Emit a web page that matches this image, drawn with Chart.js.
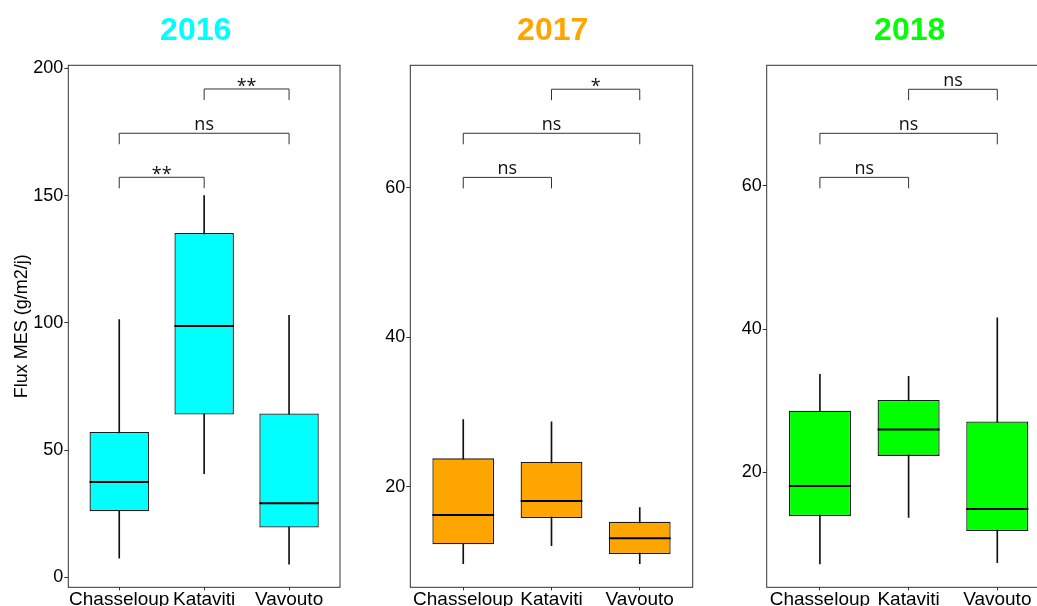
<!DOCTYPE html>
<html>
<head>
<meta charset="utf-8">
<script src="https://cdn.jsdelivr.net/npm/chart.js@4.4.1/dist/chart.umd.min.js"></script>
<style>
  html, body { margin: 0; padding: 0; background: #fff; overflow: hidden; }
  #wrap { position: relative; width: 1037px; height: 606px; overflow: hidden; background: #fff; }
  canvas { position: absolute; top: 0; }
</style>
</head>
<body>
<div id="wrap">
  <canvas id="c2016" width="346" height="640" style="left:0px"></canvas>
  <canvas id="c2017" width="346" height="640" style="left:350px"></canvas>
  <canvas id="c2018" width="360" height="640" style="left:700px"></canvas>
</div>
<script>
// ---------- data ----------
const groups = ["Chasseloup", "Kataviti", "Vavouto"];
const years = ["2016", "2017", "2018"];

const low2016    = [7.5, 40.7, 5.2];
const q1_2016    = [26.0, 64.0, 19.6];
const median2016 = [37.5, 98.8, 29.1];
const q3_2016    = [57.1, 135.3, 64.4];
const high2016   = [101.3, 150.0, 103.0];

const low2017    = [9.7, 12.1, 9.7];
const q1_2017    = [12.3, 15.8, 11.0];
const median2017 = [16.2, 18.1, 13.1];
const q3_2017    = [23.8, 23.3, 15.3];
const high2017   = [29.0, 28.7, 17.2];

const low2018    = [7.2, 13.7, 7.4];
const q1_2018    = [13.9, 22.3, 11.8];
const median2018 = [18.1, 26.0, 14.9];
const q3_2018    = [28.6, 30.1, 27.1];
const high2018   = [33.7, 33.4, 41.6];

const comparisons = [[0, 1], [0, 2], [1, 2]];
const signif2016 = ["**", "ns", "**"];
const signif2017 = ["ns", "ns", "*"];
const signif2018 = ["ns", "ns", "ns"];
const bracketY2016 = [157.2, 174.5, 191.9];
const bracketY2017 = [61.4, 67.3, 73.2];
const bracketY2018 = [61.2, 67.35, 73.5];

const yTicks2016 = [0, 50, 100, 150, 200];
const yTicks2017 = [20, 40, 60];
const yTicks2018 = [20, 40, 60];
const yRange2016 = [-3.9, 201.2];
const yRange2017 = [6.54, 76.4];
const yRange2018 = [3.95, 76.85];

const yTitle = "Flux MES (g/m2/j)";

// ---------- styling ----------
Chart.defaults.font.family = "'Liberation Sans', Arial, Helvetica, sans-serif";
Chart.defaults.color = "#000";
const BOX_WIDTH = 0.7;

const panelPlugin = {
  id: 'panelDeco',
  afterDraw(chart, args, opts) {
    const ctx = chart.ctx;
    const a = chart.chartArea;
    const x = chart.scales.x, y = chart.scales.y;
    ctx.save();
    // panel border
    ctx.strokeStyle = '#333';
    ctx.lineWidth = 1;
    ctx.strokeRect(a.left, a.top, a.right - a.left, a.bottom - a.top);
    // significance brackets
    ctx.strokeStyle = '#333';
    ctx.lineWidth = 1;
    ctx.fillStyle = '#111';
    opts.pairs.forEach((p, i) => {
      const x1 = x.getPixelForValue(p[0] + 1);
      const x2 = x.getPixelForValue(p[1] + 1);
      const yy = y.getPixelForValue(opts.levels[i]);
      ctx.beginPath();
      ctx.moveTo(x1, yy + 11);
      ctx.lineTo(x1, yy);
      ctx.lineTo(x2, yy);
      ctx.lineTo(x2, yy + 11);
      ctx.stroke();
      const lab = opts.labels[i];
      ctx.font = "18px 'Open Sans', 'DejaVu Sans', sans-serif";
      ctx.textAlign = 'center';
      ctx.textBaseline = 'alphabetic';
      const m = ctx.measureText(lab);
      const gap = lab === 'ns' ? 3.7 : 2;
      ctx.fillText(lab, (x1 + x2) / 2, yy - gap - m.actualBoundingBoxDescent);
    });
    // title
    ctx.font = "bold 32px 'Liberation Sans', Arial, sans-serif";
    ctx.fillStyle = opts.titleColor;
    ctx.textAlign = 'center';
    ctx.textBaseline = 'alphabetic';
    ctx.fillText(opts.title, opts.titleX, 40);
    ctx.restore();
  }
};

function makePanel(id, cfg) {
  const toPts = (arrA, arrB) => groups.map((g, i) => ({ x: i + 1, y: [arrA[i], arrB[i]] }));
  return new Chart(document.getElementById(id), {
    type: 'bar',
    data: {
      datasets: [
        {
          type: 'line',
          showLine: false,
          data: groups.map((g, i) => ({ x: i + 1, y: cfg.med[i] })),
          pointStyle: 'line',
          pointRadius: (c) => {
            const s = c.chart.scales.x;
            return Math.abs(s.getPixelForValue(1 + BOX_WIDTH / 2) - s.getPixelForValue(1));
          },
          pointBorderWidth: 2,
          pointBorderColor: '#000',
          pointBackgroundColor: '#000'
        },
        {
          data: toPts(cfg.q1, cfg.q3),
          backgroundColor: cfg.color,
          borderColor: '#1a1a1a',
          borderWidth: 1.3,
          borderSkipped: false,
          grouped: false,
          barPercentage: BOX_WIDTH,
          categoryPercentage: 1
        },
        {
          data: toPts(cfg.low, cfg.high),
          backgroundColor: '#111',
          borderWidth: 0,
          barThickness: 1,
          grouped: false
        }
      ]
    },
    options: {
      responsive: false,
      devicePixelRatio: 1,
      animation: false,
      events: [],
      layout: { padding: { left: 0, top: 65.3, right: cfg.rightPad, bottom: 0 } },
      plugins: {
        legend: { display: false },
        tooltip: { enabled: false },
        title: { display: false },
        panelDeco: {
          pairs: comparisons, levels: cfg.levels, labels: cfg.labels,
          title: cfg.title, titleX: cfg.titleX, titleColor: cfg.color
        }
      },
      scales: {
        x: {
          type: 'linear',
          offset: false,
          min: 0.4, max: 3.6,
          afterBuildTicks: (s) => { s.ticks = groups.map((g, i) => ({ value: i + 1 })); },
          afterFit: (s) => { s.height = 640 - 587.3; },
          border: { display: false },
          grid: { display: true, offset: false, drawOnChartArea: false, drawTicks: true, tickLength: 3, color: '#333' },
          ticks: {
            autoSkip: false, maxRotation: 0, padding: -2,
            font: { size: 19 }, color: '#000',
            callback: (v) => groups[Math.round(v) - 1]
          }
        },
        y: {
          type: 'linear',
          min: cfg.range[0], max: cfg.range[1],
          afterBuildTicks: (s) => { s.ticks = cfg.ticks.map(v => ({ value: v })); },
          afterFit: (s) => { s.width = cfg.yW; },
          border: { display: false },
          grid: { display: true, drawOnChartArea: false, drawTicks: true, tickLength: 4, color: '#333' },
          ticks: { padding: 1, font: { size: 18 }, color: '#000' },
          title: {
            display: !!cfg.yTitle,
            text: cfg.yTitle || '',
            font: { size: 18 },
            color: '#000',
            padding: { top: 11.5, bottom: 0 }
          }
        }
      }
    },
    plugins: [panelPlugin]
  });
}

makePanel('c2016', {
  low: low2016, q1: q1_2016, med: median2016, q3: q3_2016, high: high2016,
  levels: bracketY2016, labels: signif2016, ticks: yTicks2016, range: yRange2016,
  color: '#00FFFF', title: years[0], titleX: 195.7, yW: 68.3, rightPad: 6, yTitle: yTitle
});
makePanel('c2017', {
  low: low2017, q1: q1_2017, med: median2017, q3: q3_2017, high: high2017,
  levels: bracketY2017, labels: signif2017, ticks: yTicks2017, range: yRange2017,
  color: '#FFA500', title: years[1], titleX: 202.7, yW: 60.3, rightPad: 3.3
});
makePanel('c2018', {
  low: low2018, q1: q1_2018, med: median2018, q3: q3_2018, high: high2018,
  levels: bracketY2018, labels: signif2018, ticks: yTicks2018, range: yRange2018,
  color: '#00FF00', title: years[2], titleX: 209.7, yW: 66.7, rightPad: 9.5
});
</script>
</body>
</html>
